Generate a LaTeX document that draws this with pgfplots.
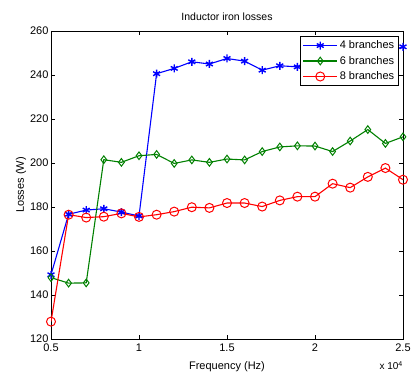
\documentclass[border=0pt]{standalone}
\usepackage{fontspec}
\setmainfont{Liberation Sans}
\usepackage{pgfplots}
\pgfplotsset{compat=1.18}
\begin{document}
\begin{tikzpicture}[x=1pt,y=1pt]
\useasboundingbox (-51,-35) rectangle (360,339);
\begin{axis}[
  name=ax,
  at={(0,0)}, anchor=south west,
  scale only axis, width=352pt, height=308pt,
  xmin=5000, xmax=25000, ymin=120, ymax=260,
  scaled x ticks=false,
  xtick={5000,10000,15000,20000,25000},
  xticklabels={0.5,1,1.5,2,2.5},
  ytick={120,140,...,260},
  tick align=inside, major tick length=4pt,
  xtick pos=both, ytick pos=both,
  axis line style={line width=0.8pt},
  tick style={line width=0.6pt, black},
  font=\fontsize{11}{13}\selectfont,
  /pgf/number format/assume math mode=true,
  title={Inductor iron losses},
  title style={at={(0.5,1)}, anchor=south, yshift=1pt, font=\fontsize{10.5}{12}\selectfont},
  xlabel={Frequency (Hz)},
  ylabel={Losses (W)},
  xlabel style={yshift=-3pt},
  ylabel style={yshift=-3pt},
  xticklabel style={yshift=-1pt},
  yticklabel style={xshift=1pt},
  legend style={at={(0.989,0.984)}, anchor=north east, draw=black, line width=0.8pt, fill=white,
    font=\fontsize{11}{13}\selectfont, row sep=2pt, inner sep=2.5pt},
  legend cell align=left,
  legend image code/.code={\draw[mark repeat=2,mark phase=2,#1] plot coordinates {(0pt,0pt) (17pt,0pt) (34pt,0pt)};},
  every axis plot/.append style={line width=1.1pt},
]
\addplot[blue, mark=asterisk, mark size=4pt, mark options={line width=1.4pt}] coordinates {
(5000,149.2) (6000,176.7) (7000,178.6) (8000,179.2) (9000,177.7) (10000,175.9)
(11000,240.6) (12000,243) (13000,246) (14000,245) (15000,247.5) (16000,246.3)
(17000,242.2) (18000,244.2) (19000,243.7) (20000,244.5) (21000,245.5) (22000,246.5)
(23000,248.5) (24000,250.5) (25000,252.8)};
\addlegendentry{4 branches}
\addplot[green!50!black, mark=diamond, mark size=3.8pt, mark options={line width=1pt, fill=none}] coordinates {
(5000,147.9) (6000,145.4) (7000,145.5) (8000,201.5) (9000,200.3) (10000,203.3)
(11000,203.9) (12000,199.8) (13000,201.4) (14000,200.3) (15000,201.8) (16000,201.4)
(17000,205.2) (18000,207.3) (19000,207.8) (20000,207.7) (21000,205.2) (22000,210)
(23000,215.2) (24000,208.9) (25000,211.9)};
\addlegendentry{6 branches}
\addplot[red, mark=o, mark size=4.5pt, mark options={line width=1pt}] coordinates {
(5000,127.9) (6000,176.5) (7000,175.2) (8000,175.6) (9000,177.1) (10000,175.5)
(11000,176.5) (12000,177.9) (13000,179.9) (14000,179.6) (15000,181.8) (16000,181.8)
(17000,180.2) (18000,183) (19000,184.7) (20000,184.7) (21000,190.6) (22000,188.8)
(23000,193.7) (24000,197.7) (25000,192.4)};
\addlegendentry{8 branches}
\end{axis}
\node[anchor=north east, font=\fontsize{10}{12}\selectfont, inner sep=0pt] at (352,-22) {x 10\textsuperscript{4}};
\end{tikzpicture}
\end{document}
